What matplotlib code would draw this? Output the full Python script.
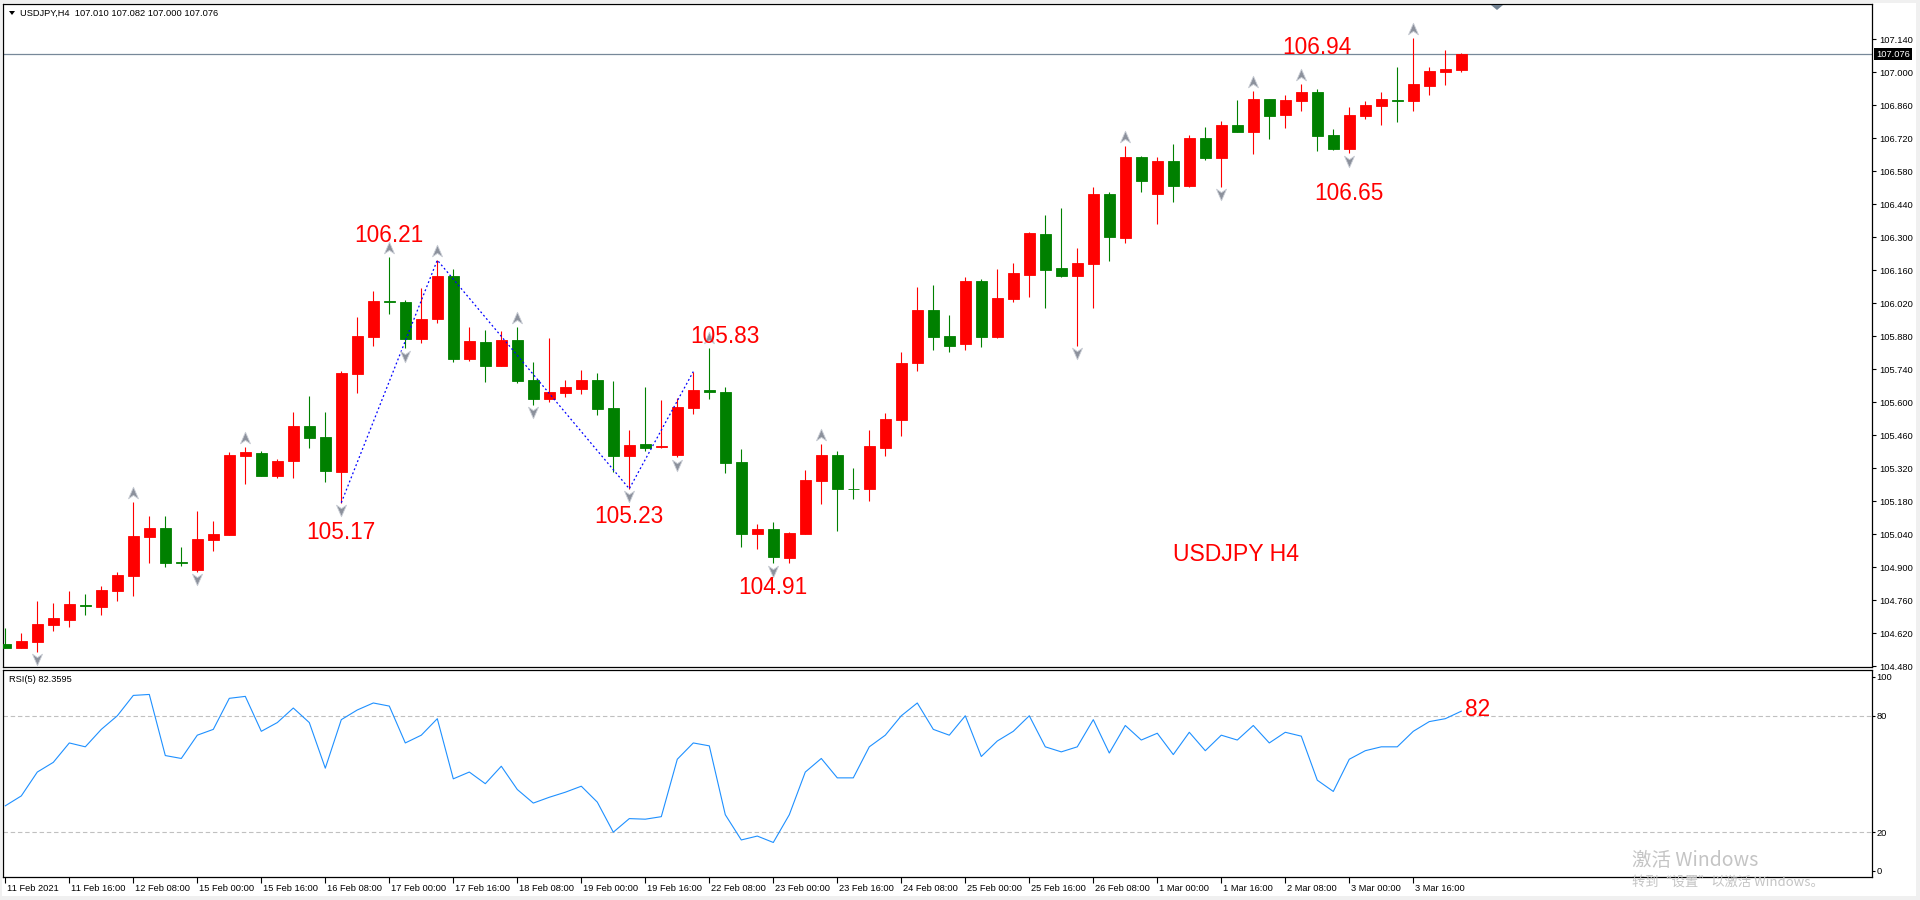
import matplotlib
matplotlib.use("Agg")
import matplotlib.pyplot as plt
import numpy as np
from matplotlib.path import Path
from matplotlib.patches import Rectangle, Polygon
from matplotlib.transforms import offset_copy, blended_transform_factory, ScaledTranslation

# ---------------- data ----------------
opens = [104.573, 104.558, 104.583, 104.655, 104.677, 104.737, 104.732, 104.799, 104.863, 105.029,
         105.065, 104.920, 104.887, 105.015, 105.037, 105.372, 105.384, 105.287, 105.351, 105.498,
         105.452, 105.305, 105.720, 105.877, 106.027, 106.023, 105.866, 105.951, 106.135, 105.784,
         105.855, 105.754, 105.863, 105.693, 105.614, 105.640, 105.657, 105.693, 105.575, 105.372,
         105.422, 105.408, 105.375, 105.576, 105.650, 105.642, 105.344, 105.039, 105.061, 104.940,
         105.041, 105.266, 105.375, 105.232, 105.231, 105.406, 105.525, 105.765, 105.990, 105.880,
         105.847, 106.113, 105.877, 106.038, 106.140, 106.313, 106.168, 106.136, 106.187, 106.482,
         106.297, 106.639, 106.484, 106.622, 106.518, 106.720, 106.636, 106.775, 106.747, 106.885,
         106.819, 106.878, 106.915, 106.733, 106.675, 106.815, 106.857, 106.883, 106.878, 106.942,
         107.001, 107.010]
highs = [104.640, 104.619, 104.757, 104.747, 104.798, 104.785, 104.821, 104.880, 105.176, 105.116,
         105.116, 104.985, 105.138, 105.095, 105.386, 105.408, 105.392, 105.358, 105.558, 105.625,
         105.558, 105.732, 105.961, 106.071, 106.214, 106.031, 106.082, 106.202, 106.163, 105.918,
         105.905, 105.901, 105.918, 105.770, 105.873, 105.693, 105.736, 105.723, 105.689, 105.481,
         105.665, 105.609, 105.617, 105.729, 105.830, 105.662, 105.399, 105.082, 105.089, 105.048,
         105.311, 105.422, 105.392, 105.319, 105.481, 105.553, 105.812, 106.088, 106.096, 105.969,
         106.130, 106.120, 106.164, 106.190, 106.321, 106.393, 106.423, 106.253, 106.512, 106.491,
         106.686, 106.644, 106.639, 106.694, 106.733, 106.767, 106.792, 106.881, 106.919, 106.887,
         106.902, 106.949, 106.928, 106.758, 106.851, 106.877, 106.915, 107.021, 107.144, 107.021,
         107.095, 107.082]
lows = [104.555, 104.556, 104.541, 104.630, 104.647, 104.698, 104.698, 104.757, 104.778, 104.916,
        104.902, 104.906, 104.880, 104.969, 105.037, 105.252, 105.285, 105.279, 105.279, 105.405,
        105.262, 105.173, 105.640, 105.839, 105.975, 105.828, 105.852, 105.934, 105.771, 105.775,
        105.686, 105.754, 105.682, 105.589, 105.601, 105.623, 105.635, 105.546, 105.305, 105.232,
        105.393, 105.406, 105.365, 105.550, 105.614, 105.300, 104.986, 104.975, 104.916, 104.918,
        105.041, 105.167, 105.054, 105.190, 105.181, 105.372, 105.457, 105.733, 105.822, 105.813,
        105.822, 105.835, 105.873, 106.026, 106.047, 106.000, 106.132, 105.839, 106.000, 106.200,
        106.276, 106.492, 106.356, 106.450, 106.513, 106.628, 106.513, 106.747, 106.654, 106.717,
        106.764, 106.836, 106.666, 106.670, 106.655, 106.802, 106.777, 106.789, 106.836, 106.904,
        106.946, 107.000]
closes = [104.558, 104.586, 104.658, 104.684, 104.743, 104.734, 104.802, 104.866, 105.032, 105.065,
          104.918, 104.917, 105.019, 105.040, 105.375, 105.388, 105.287, 105.350, 105.498, 105.449,
          105.309, 105.723, 105.880, 106.029, 106.024, 105.866, 105.951, 106.135, 105.784, 105.859,
          105.754, 105.863, 105.691, 105.614, 105.642, 105.664, 105.693, 105.572, 105.372, 105.418,
          105.406, 105.412, 105.579, 105.651, 105.642, 105.343, 105.039, 105.061, 104.944, 105.043,
          105.269, 105.375, 105.231, 105.229, 105.413, 105.528, 105.765, 105.990, 105.877, 105.839,
          106.113, 105.877, 106.041, 106.147, 106.317, 106.161, 106.136, 106.190, 106.482, 106.301,
          106.639, 106.539, 106.622, 106.518, 106.720, 106.635, 106.775, 106.747, 106.885, 106.815,
          106.881, 106.915, 106.730, 106.675, 106.819, 106.860, 106.885, 106.878, 106.949, 107.004,
          107.013, 107.076]

rsi = [33.6, 38.7, 51, 56, 66, 64, 73, 80, 90.5, 91,
       59.5, 58, 70, 73, 89, 90, 72, 76.5, 84, 76.5,
       53, 78, 83, 86.6, 85, 66, 70, 78.5, 47.5, 51,
       45, 54, 42, 35, 38, 40.6, 43.7, 35.5, 20, 27,
       26.7, 28, 57.6, 66, 64.5, 29, 16, 18, 14.7, 29,
       51, 58, 48, 48, 64, 70, 80, 86.6, 73, 70,
       80, 59, 67, 72, 80, 64, 61.4, 64, 78, 60.8,
       75, 67.5, 71, 60, 71.5, 62, 70, 67.5, 75, 66,
       71.5, 69.5, 46.8, 41, 57.6, 62, 64, 64, 72, 77,
       78.5, 82.3595]

zigzag_bars = [21, 27, 39, 43]
zigzag_prices = [105.173, 106.202, 105.232, 105.729]

fractal_up = [8, 15, 24, 27, 32, 44, 51, 70, 78, 81, 88]
fractal_down = [2, 12, 21, 25, 33, 39, 42, 48, 67, 76, 84]

note_texts = ["105.17", "106.21", "105.23", "105.83", "104.91", "106.94", "106.65"]
note_bars = [21, 24, 39, 45, 48, 82, 84]
note_prices = [105.048, 106.305, 105.114, 105.876, 104.811, 107.105, 106.485]

price_ticks = [104.48, 104.62, 104.76, 104.90, 105.04, 105.18, 105.32, 105.46, 105.60,
               105.74, 105.88, 106.02, 106.16, 106.30, 106.44, 106.58, 106.72, 106.86,
               107.00, 107.14]
rsi_ticks = [0, 20, 80, 100]
time_labels = ["11 Feb 2021", "11 Feb 16:00", "12 Feb 08:00", "15 Feb 00:00", "15 Feb 16:00",
               "16 Feb 08:00", "17 Feb 00:00", "17 Feb 16:00", "18 Feb 08:00", "19 Feb 00:00",
               "19 Feb 16:00", "22 Feb 08:00", "23 Feb 00:00", "23 Feb 16:00", "24 Feb 08:00",
               "25 Feb 00:00", "25 Feb 16:00", "26 Feb 08:00", "1 Mar 00:00", "1 Mar 16:00",
               "2 Mar 08:00", "3 Mar 00:00", "3 Mar 16:00"]
time_label_step = 4

header = "USDJPY,H4  107.010 107.082 107.000 107.076"
rsi_title = "RSI(5) 82.3595"
last_price = closes[-1]

# ---------------- figure ----------------
W, H = 1920, 900
UI = "Liberation Sans"
plt.rcParams['font.family'] = [UI, 'DejaVu Sans']

fig = plt.figure(figsize=(W / 100, H / 100), dpi=100, facecolor='#f0f0f0')
fig.patches.append(Rectangle((2 / W, 4 / H), (1916 - 2) / W, (897 - 4) / H,
                             transform=fig.transFigure, facecolor='white', edgecolor='none',
                             zorder=-10))

def fx(px):
    return px / W

def fy(py):
    return 1 - py / H

ax = fig.add_axes([fx(3), fy(667), (1872 - 3) / W, (667 - 4) / H])
ax2 = fig.add_axes([fx(3), fy(877), (1872 - 3) / W, (877 - 670) / H], sharex=ax)

x = np.arange(len(opens))
o = np.array(opens); h = np.array(highs); l = np.array(lows); c = np.array(closes)
up = c >= o
cols = np.where(up, '#ff0000', '#008000')

# wicks
ax.vlines(x, l, h, colors=cols, linewidth=0.8, zorder=2)
# bodies
ax.bar(x, np.abs(c - o), bottom=np.minimum(o, c), width=0.66, color=cols,
       edgecolor=cols, linewidth=0.6, zorder=3)

# zigzag
ax.plot(zigzag_bars, zigzag_prices, color='#0000ff', linewidth=0.9,
        linestyle=(0, (1.5, 2.0)), zorder=4)

# fractal arrows
up_path = Path([(0, 1), (0.8, -0.85), (0, -0.3), (-0.8, -0.85), (0, 1)],
               [Path.MOVETO, Path.LINETO, Path.LINETO, Path.LINETO, Path.CLOSEPOLY])
down_path = Path([(0, -1), (0.8, 0.85), (0, 0.3), (-0.8, 0.85), (0, -1)],
                 [Path.MOVETO, Path.LINETO, Path.LINETO, Path.LINETO, Path.CLOSEPOLY])
tr_up = offset_copy(ax.transData, fig=fig, y=6.8, units='points')
tr_dn = offset_copy(ax.transData, fig=fig, y=-5.3, units='points')
ax.plot(fractal_up, [highs[i] for i in fractal_up], linestyle='none', marker=up_path,
        markersize=9, markerfacecolor='#8c919c', markeredgecolor='#c8ccd4',
        markeredgewidth=0.6, transform=tr_up, zorder=5)
ax.plot(fractal_down, [lows[i] for i in fractal_down], linestyle='none', marker=down_path,
        markersize=9, markerfacecolor='#8c919c', markeredgecolor='#c8ccd4',
        markeredgewidth=0.6, transform=tr_dn, zorder=5)

# annotations
for t, b, p in zip(note_texts, note_bars, note_prices):
    ax.text(b, p, t, color='#ff0000', fontsize=16.3, ha='center', va='center',
            family='Liberation Sans', zorder=6)
ax.text(76.9, 104.951, "USDJPY H4", color='#ff0000', fontsize=16.6, ha='center', va='center',
        family='Liberation Sans', zorder=6)

# last price line
ax.axhline(last_price, color='#778899', linewidth=0.9, zorder=1)
btr = blended_transform_factory(ax.transAxes, ax.transData)
ax.text(1.0 + 4 / 1869, last_price, f"{last_price:.3f}", transform=btr, color='white',
        fontsize=6.7, ha='left', va='center',
        bbox=dict(facecolor='black', edgecolor='none', boxstyle='square,pad=0.2'), zorder=7,
        clip_on=False)

# axes limits
ax.set_xlim(-0.144, 116.67)
ax.set_ylim(104.4758, 107.2885)
ax.yaxis.tick_right()
ax.set_yticks(price_ticks)
ax.set_yticklabels([f"{v:.3f}" for v in price_ticks])
ax.tick_params(axis='y', direction='out', length=3, width=0.8, pad=2, labelsize=6.7,
               colors='black')
ax.tick_params(axis='x', bottom=False, labelbottom=False)
for s in ax.spines.values():
    s.set_color('black')
    s.set_linewidth(0.9)

# RSI panel
ax2.plot(x, rsi, color='#1e90ff', linewidth=0.8, zorder=3)
for lev in (20, 80):
    ax2.axhline(lev, color='#c0c0c0', linewidth=0.8, linestyle=(0, (4, 2.5)), zorder=1)
ax2.set_ylim(-3.1, 103.6)
ax2.yaxis.tick_right()
ax2.set_yticks(rsi_ticks)
ax2.set_yticklabels([str(v) for v in rsi_ticks])
ax2.tick_params(axis='y', direction='out', length=2, width=0.8, pad=1, labelsize=6.7)
xt = list(range(0, len(time_labels) * time_label_step, time_label_step))
ax2.set_xticks(xt)
ax2.set_xticklabels(time_labels, ha='left')
ax2.tick_params(axis='x', direction='out', length=4, width=0.8, pad=1, labelsize=6.7)
shift = ScaledTranslation(2 / 100, 0, fig.dpi_scale_trans)
for lab in ax2.get_xticklabels():
    lab.set_transform(lab.get_transform() + shift)
for s in ax2.spines.values():
    s.set_color('black')
    s.set_linewidth(0.9)
ax2.text(92, 83, "82", color='#ff0000', fontsize=16.3, ha='center', va='center',
         family='Liberation Sans', zorder=6)

# header texts
fig.text(fx(20), fy(13), header, fontsize=6.7, ha='left', va='center', color='black')
fig.patches.append(Polygon([[fx(9), fy(11)], [fx(15), fy(11)], [fx(12), fy(15)]], closed=True,
                           transform=fig.transFigure, facecolor='black', edgecolor='none'))
fig.text(fx(9), fy(680), rsi_title, fontsize=6.7, ha='left', va='center', color='black')
# chart-shift marker
fig.patches.append(Polygon([[fx(1491), fy(5)], [fx(1503), fy(5)], [fx(1497), fy(10)]], closed=True,
                           transform=fig.transFigure, facecolor='#708090', edgecolor='none', zorder=10))

# windows watermark
fig.text(fx(1632), fy(860), "激活 Windows", fontsize=14, color='#c4c4c4', ha='left', va='center',
         family=['Noto Sans CJK SC', 'DejaVu Sans'])
fig.text(fx(1632), fy(882), "转到“设置”以激活 Windows。", fontsize=9.5, color='#c4c4c4', ha='left',
         va='center', family=['Noto Sans CJK SC', 'DejaVu Sans'])

fig.savefig("out.png", dpi=100, facecolor=fig.get_facecolor())
